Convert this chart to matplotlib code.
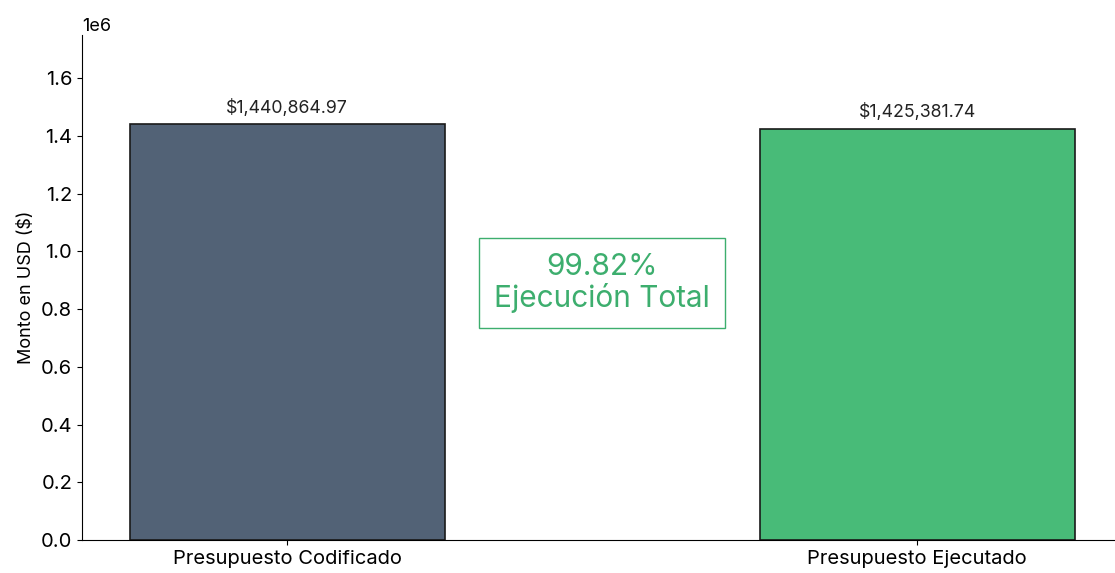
import matplotlib.pyplot as plt

plt.rcParams['font.family'] = ['Inter', 'DejaVu Sans']

categorias = ['Presupuesto Codificado', 'Presupuesto Ejecutado']
montos = [1440864.97, 1425381.74]
colores = ['#526276', '#48BB78']
porcentaje_txt = '99.82%'

fig = plt.figure(figsize=(11.15, 5.73), dpi=100)
ax = fig.add_axes([82 / 1115, 33 / 573, 1 - 82 / 1115, 505 / 573])

x = range(len(categorias))
bars = ax.bar(x, montos, width=0.5, color=colores, edgecolor='#1a1a1a', linewidth=1.2)

for b, m in zip(bars, montos):
    ax.text(b.get_x() + b.get_width() / 2, m + 25000, f'${m:,.2f}',
            ha='center', va='bottom', fontsize=12.8, color='#222222')

ax.text(0.5, 0.89e6, f'{porcentaje_txt}\nEjecución Total', ha='center', va='center',
        fontsize=21.5, color='#3DAE6E', linespacing=1.1,
        bbox=dict(boxstyle='square,pad=0.5', facecolor='white', edgecolor='#3DAE6E', linewidth=1))

ax.set_xticks(list(x))
ax.set_xticklabels(categorias, fontsize=14.5)
ax.set_xlim(-0.326, 1.314)
ax.set_ylim(0, 1.75e6)
ax.set_yticks([i * 0.2e6 for i in range(9)])
ax.tick_params(axis='y', labelsize=14.5)
ax.yaxis.get_offset_text().set_fontsize(13)
ax.set_ylabel('Monto en USD ($)', fontsize=13)
ax.spines['top'].set_visible(False)
ax.spines['right'].set_visible(False)

fig.savefig('out.png', dpi=100)
